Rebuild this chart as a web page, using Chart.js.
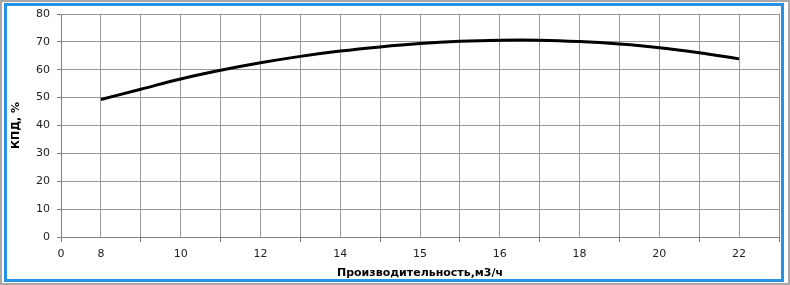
<!DOCTYPE html>
<html>
<head>
<meta charset="utf-8">
<script src="https://cdn.jsdelivr.net/npm/chart.js@4/dist/chart.umd.min.js"></script>
<style>
  html, body { margin: 0; padding: 0; background: #fff; }
  #wrap { position: relative; width: 790px; height: 285px; overflow: hidden; }
  .outer { position: absolute; left: 0; top: 0; width: 790px; height: 285px; box-sizing: border-box; border: 2px solid #a8a8a8; }
  .inner { position: absolute; left: 4px; top: 3px; width: 780px; height: 279px; box-sizing: border-box; border: 3px solid #2592e6; }
  canvas { position: absolute; left: 0; top: 0; }
</style>
</head>
<body>
<div id="wrap">
  <div class="outer"></div>
  <div class="inner"></div>
  <canvas id="pumpChart" width="790" height="285"></canvas>
</div>
<script>
// x axis categories (one per grid column), labels only on some of them
var tickLabels = ["0", "8", "", "10", "", "12", "", "14", "", "15", "", "16", "", "18", "", "20", "", "22", ""];
// КПД, % at every grid column
var efficiency = [null, 49.3, 53.0, 56.7, 59.8, 62.5, 64.8, 66.7, 68.2, 69.4, 70.2, 70.6, 70.6, 70.1, 69.2, 67.9, 66.1, 63.9, null];
var yTicks = { min: 0, max: 80, step: 10 };

var gridColor = "#999";
var axisColor = "#808080";
var textColor = "#222";

var ctx = document.getElementById("pumpChart");
new Chart(ctx, {
    type: "line",
    data: {
        labels: tickLabels,
        datasets: [
            {
                data: efficiency,
                borderColor: "#000",
                borderWidth: 3,
                pointRadius: 0,
                tension: 0.4,
                fill: false,
            },
        ],
    },
    options: {
        responsive: false,
        animation: false,
        devicePixelRatio: 1,
        layout: {
            padding: { top: 14, right: 11, bottom: 0, left: 0 },
        },
        plugins: {
            legend: { display: false },
            tooltip: { enabled: false },
        },
        scales: {
            x: {
                type: "category",
                offset: false,
                afterFit: function (scale) { scale.height = 48; },
                grid: {
                    color: gridColor,
                    offset: false,
                    tickLength: 5,
                    tickColor: function (c) {
                        return c.index % 2 === 0 ? axisColor : "rgba(0,0,0,0)";
                    },
                },
                border: { color: axisColor },
                ticks: {
                    autoSkip: false,
                    maxRotation: 0,
                    padding: 6,
                    color: textColor,
                    font: { family: "DejaVu Sans", size: 11 },
                },
                title: {
                    display: true,
                    text: "Производительность,м3/ч",
                    color: "#000",
                    font: { family: "DejaVu Sans", size: 11, weight: "bold" },
                    padding: { top: 0, bottom: 5 },
                },
            },
            y: {
                min: yTicks.min,
                max: yTicks.max,
                afterFit: function (scale) { scale.width = 61; },
                grid: {
                    color: gridColor,
                    tickLength: 4,
                    tickColor: axisColor,
                },
                border: { color: axisColor },
                ticks: {
                    stepSize: yTicks.step,
                    padding: 7,
                    color: textColor,
                    font: { family: "DejaVu Sans", size: 11 },
                },
                title: {
                    display: true,
                    text: "КПД, %",
                    color: "#000",
                    font: { family: "DejaVu Sans", size: 11, weight: "bold" },
                    padding: { top: 10, bottom: 0 },
                },
            },
        },
    },
});
</script>
</body>
</html>
